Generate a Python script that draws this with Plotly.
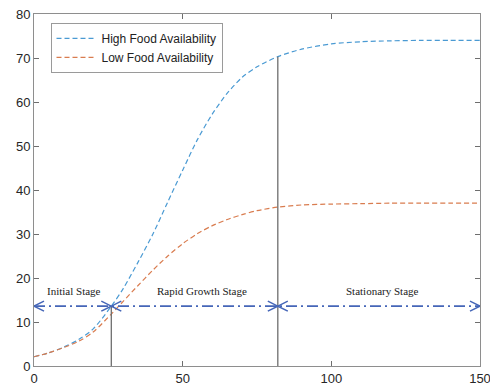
import plotly.graph_objects as go

# ---- data ----
days = [0, 5, 10, 15, 20, 26, 30, 35, 40, 45, 50, 55, 60, 65, 70, 75, 82, 90, 100, 110, 120, 130, 140, 150]
high_food = [2.1, 3.0, 4.3, 6.0, 8.5, 13.6, 17.6, 23.6, 30.0, 37.3, 44.5, 51.5, 57.3, 62.0, 65.6, 68.0, 70.3, 72.0, 73.2, 73.7, 73.9, 74.0, 74.0, 74.0]
low_food = [2.1, 3.0, 4.2, 5.6, 7.8, 11.8, 14.7, 18.3, 21.8, 25.0, 27.8, 30.1, 31.9, 33.3, 34.4, 35.3, 36.1, 36.6, 36.8, 36.9, 37.0, 37.0, 37.0, 37.0]

stage_edges = [0, 26, 82, 150]
stage_names = ["Initial Stage", "Rapid Growth Stage", "Stationary Stage"]
stage_label_x = [13.3, 56.5, 117.2]
stage_label_y = 17.0
arrow_y = 13.6
boundary_x = [26, 82]
boundary_top = [13.6, 70.3]

x_ticks = [0, 50, 100, 150]
y_ticks = [0, 10, 20, 30, 40, 50, 60, 70, 80]

fig = go.Figure()

fig.add_trace(go.Scatter(x=days, y=high_food, mode="lines", name="High Food Availability",
                         line=dict(color="#4a9ad3", width=1.2, dash="5px,3px", shape="spline", smoothing=0.8)))
fig.add_trace(go.Scatter(x=days, y=low_food, mode="lines", name="Low Food Availability",
                         line=dict(color="#d97c4f", width=1.2, dash="5px,3px", shape="spline", smoothing=0.8)))

# stage boundary lines
bx, by = [], []
for xb, yt in zip(boundary_x, boundary_top):
    bx += [xb, xb, None]
    by += [0, yt, None]
fig.add_trace(go.Scatter(x=bx, y=by, mode="lines", showlegend=False, hoverinfo="skip",
                         line=dict(color="#6e6e6e", width=1.3)))

# stage arrows (dash-dot line)
fig.add_trace(go.Scatter(x=[stage_edges[0], stage_edges[-1]], y=[arrow_y, arrow_y], mode="lines",
                         showlegend=False, hoverinfo="skip",
                         line=dict(color="#4566b8", width=1.6, dash="11px,4px,2px,4px")))

shapes = []
arrow_col = "#4566b8"
for i in range(len(stage_names)):
    x0, x1 = stage_edges[i], stage_edges[i + 1]
    shapes.append(dict(type="path", xref="x", yref="y", xsizemode="pixel", ysizemode="pixel",
                       xanchor=x0, yanchor=arrow_y, path="M 10,5 L 0,0 L 10,-5",
                       line=dict(color=arrow_col, width=1.5)))
    shapes.append(dict(type="path", xref="x", yref="y", xsizemode="pixel", ysizemode="pixel",
                       xanchor=x1, yanchor=arrow_y, path="M -10,5 L 0,0 L -10,-5",
                       line=dict(color=arrow_col, width=1.5)))

annotations = []
for name, lx in zip(stage_names, stage_label_x):
    annotations.append(dict(x=lx, y=stage_label_y, xref="x", yref="y", text=name, showarrow=False,
                            font=dict(family="Liberation Serif, Times New Roman, serif", size=11, color="#222222")))

axis_common = dict(showline=True, linecolor="#8e8e8e", linewidth=1, mirror="ticks",
                   ticks="inside", ticklen=5, tickcolor="#6e6e6e", showgrid=False, zeroline=False,
                   automargin=False, ticklabeloverflow="allow",
                   tickfont=dict(family="Liberation Sans, Arial, sans-serif", size=13, color="#262626"))

fig.update_layout(
    width=490, height=390,
    margin=dict(l=34, r=10, t=14, b=24),
    paper_bgcolor="white", plot_bgcolor="white",
    xaxis=dict(range=[0, 150], tickvals=x_ticks, **axis_common),
    yaxis=dict(range=[0, 80], tickvals=y_ticks, **axis_common),
    legend=dict(x=0.037, y=0.975, xanchor="left", yanchor="top",
                bgcolor="white", bordercolor="#9a9a9a", borderwidth=1,
                font=dict(family="Liberation Sans, Arial, sans-serif", size=12, color="#222222"),
                tracegroupgap=0, itemwidth=40),
    shapes=shapes,
    annotations=annotations,
    showlegend=True,
)

fig.write_html("out.html")
